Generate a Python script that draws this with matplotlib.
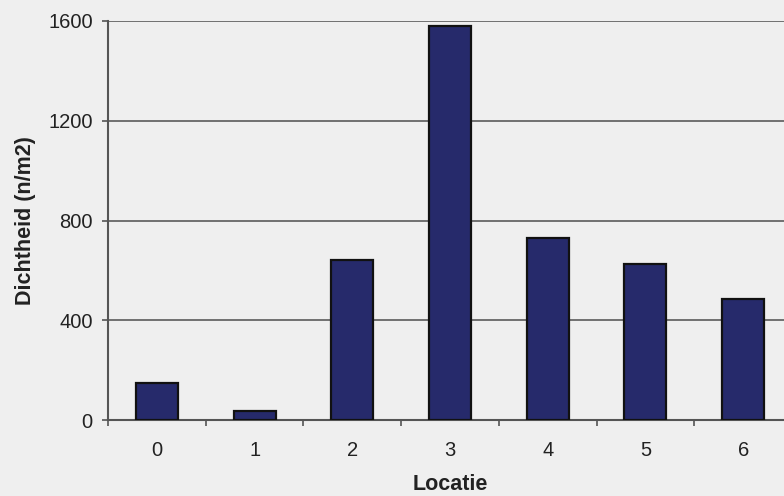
import matplotlib
matplotlib.use("Agg")
import matplotlib.pyplot as plt
import numpy as np

# data
locaties = ["0", "1", "2", "3", "4", "5", "6"]
dichtheid = [150, 35, 640, 1580, 730, 625, 485]
y_ticks = [0, 400, 800, 1200, 1600]

plt.rcParams["font.family"] = ["Liberation Sans", "DejaVu Sans"]

bg = "#efefef"
fig = plt.figure(figsize=(7.84, 4.96), dpi=100, facecolor=bg)
ax = fig.add_axes([108 / 784, 1 - 420 / 496, 684 / 784, 399 / 496])
ax.set_facecolor(bg)

x = np.arange(len(locaties))
ax.bar(x, dichtheid, width=0.43, color="#262a6b", edgecolor="#111111",
       linewidth=1.6, zorder=3)

ax.set_xlim(-0.5, len(locaties) - 0.5)
ax.set_ylim(0, 1600)
ax.set_yticks(y_ticks)
ax.set_yticklabels([str(v) for v in y_ticks], fontsize=14.5, color="#222222")
ax.yaxis.grid(True, color="#666666", linewidth=1.3, zorder=1)

# category labels without ticks, tick marks at the category boundaries
ax.set_xticks(x)
ax.set_xticklabels(locaties, fontsize=14.5, color="#222222")
ax.tick_params(axis="x", which="major", length=0, pad=15)
ax.set_xticks(np.arange(-0.5, len(locaties)), minor=True)
ax.tick_params(axis="x", which="minor", length=4.5, width=1.2, color="#555555",
               direction="out")
ax.tick_params(axis="y", length=4.5, width=1.2, color="#555555", pad=6.5)

for side in ["top", "right"]:
    ax.spines[side].set_visible(False)
for side in ["left", "bottom"]:
    ax.spines[side].set_color("#555555")
    ax.spines[side].set_linewidth(1.5)

ax.set_xlabel("Locatie", fontsize=15.5, fontweight="bold", color="#222222",
              labelpad=10)
ax.set_ylabel("Dichtheid (n/m2)", fontsize=15.5, fontweight="bold",
              color="#222222", labelpad=9)

fig.savefig("out.png", dpi=100, facecolor=bg)
